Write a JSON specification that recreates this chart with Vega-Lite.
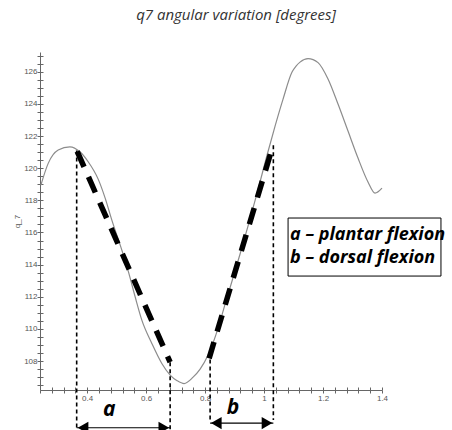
{
  "$schema": "https://vega.github.io/schema/vega-lite/v6.json",
  "width": 342,
  "height": 338,
  "autosize": {"type": "none"},
  "padding": {"left": 40, "top": 52, "right": 70, "bottom": 40},
  "background": "white",
  "config": {"view": {"stroke": null}},
  "title": {"text": "q7 angular variation [degrees]", "font": "Open Sans", "fontStyle": "italic", "fontWeight": "normal", "fontSize": 15, "color": "#333", "anchor": "middle", "frame": "group", "dx": 25, "offset": 17, "baseline": "alphabetic"},
  "datasets": {
    "curve": [
      {"t": 0.2431, "v": 118.95}, {"t": 0.2678, "v": 120.30}, {"t": 0.3017, "v": 121.13}, {"t": 0.3414, "v": 121.33},
      {"t": 0.3753, "v": 121.02}, {"t": 0.4034, "v": 120.40}, {"t": 0.4373, "v": 119.32}, {"t": 0.4610, "v": 118.14},
      {"t": 0.4837, "v": 116.77}, {"t": 0.5176, "v": 114.90}, {"t": 0.5400, "v": 113.55}, {"t": 0.5627, "v": 112.00},
      {"t": 0.5854, "v": 110.55}, {"t": 0.6193, "v": 109.10}, {"t": 0.6532, "v": 107.85}, {"t": 0.6814, "v": 107.13},
      {"t": 0.7051, "v": 106.78}, {"t": 0.7288, "v": 106.60}, {"t": 0.7593, "v": 107.00}, {"t": 0.7831, "v": 107.50},
      {"t": 0.8102, "v": 108.37}, {"t": 0.8441, "v": 110.05}, {"t": 0.8678, "v": 111.54}, {"t": 0.9186, "v": 114.66},
      {"t": 0.9763, "v": 118.45}, {"t": 1.0102, "v": 120.82}, {"t": 1.0373, "v": 122.62}, {"t": 1.0644, "v": 124.30},
      {"t": 1.0949, "v": 125.98}, {"t": 1.1085, "v": 126.35}, {"t": 1.1220, "v": 126.60}, {"t": 1.1492, "v": 126.82},
      {"t": 1.1831, "v": 126.57}, {"t": 1.2169, "v": 125.55}, {"t": 1.2508, "v": 123.99}, {"t": 1.2847, "v": 122.31},
      {"t": 1.3186, "v": 120.63}, {"t": 1.3525, "v": 119.14}, {"t": 1.3763, "v": 118.45}, {"t": 1.4, "v": 118.76}
    ],
    "chords": [
      {"t1": 0.3661, "v1": 121.05, "t2": 0.6814, "v2": 107.93},
      {"t1": 0.8136, "v1": 108.17, "t2": 1.0305, "v2": 121.43}
    ],
    "guides": [
      {"t": 0.3644, "v1": 121.1, "v2": 103.5},
      {"t": 0.6814, "v1": 107.93, "v2": 103.5},
      {"t": 0.817, "v1": 108.1, "v2": 104.33},
      {"t": 1.0315, "v1": 121.43, "v2": 104.33}
    ],
    "arrows": [
      {"t1": 0.3644, "t2": 0.6814, "v": 103.85},
      {"t1": 0.817, "t2": 1.0315, "v": 104.14}
    ],
    "heads": [
      {"t": 0.386, "v": 103.85, "dir": "left"},
      {"t": 0.660, "v": 103.85, "dir": "right"},
      {"t": 0.838, "v": 104.14, "dir": "left"},
      {"t": 1.010, "v": 104.14, "dir": "right"}
    ],
    "letters": [
      {"t": 0.4746, "v": 104.95, "label": "a"},
      {"t": 0.8949, "v": 105.07, "label": "b"}
    ],
    "box": [{"t1": 1.0814, "t2": 1.6, "v1": 116.9, "v2": 113.29}],
    "legendText": [
      {"t": 1.088, "v": 115.53, "text": "a – plantar flexion"},
      {"t": 1.088, "v": 114.10, "text": "b – dorsal flexion"}
    ]
  },
  "resolve": {"axis": {"x": "independent", "y": "independent"}},
  "layer": [
    {
      "data": {"name": "curve"},
      "mark": {"type": "line", "color": "#8c8c8c", "strokeWidth": 1.2, "interpolate": "monotone"},
      "encoding": {
        "x": {"field": "t", "type": "quantitative", "scale": {"domain": [0.24, 1.4], "nice": false, "zero": false},
          "axis": {"orient": "bottom", "title": null, "grid": false,
            "values": [0.24,0.28,0.32,0.36,0.4,0.44,0.48,0.52,0.56,0.6,0.64,0.68,0.72,0.76,0.8,0.84,0.88,0.92,0.96,1,1.04,1.08,1.12,1.16,1.2,1.24,1.28,1.32,1.36,1.4],
            "labelExpr": "abs(datum.value*5 - round(datum.value*5)) < 0.001 ? format(datum.value, '~g') : ''",
            "tickSize": 3, "tickColor": "#666", "domainColor": "#666", "labelColor": "#555", "labelFont": "Liberation Sans", "labelFontSize": 8, "labelPadding": 1, "labelFlush": false, "labelOverlap": false}},
        "y": {"field": "v", "type": "quantitative", "scale": {"domain": [106.2, 127.23], "nice": false, "zero": false},
          "axis": {"orient": "left", "grid": false, "title": "q_7", "titleFont": "Liberation Sans", "titleFontSize": 8, "titleFontWeight": "normal", "titleColor": "#555", "titlePadding": 2,
            "values": [106.5,107,107.5,108,108.5,109,109.5,110,110.5,111,111.5,112,112.5,113,113.5,114,114.5,115,115.5,116,116.5,117,117.5,118,118.5,119,119.5,120,120.5,121,121.5,122,122.5,123,123.5,124,124.5,125,125.5,126,126.5,127],
            "labelExpr": "datum.value % 2 == 0 ? format(datum.value, 'd') : ''",
            "tickSize": 3, "tickColor": "#666", "domainColor": "#666", "labelColor": "#555", "labelFont": "Liberation Sans", "labelFontSize": 8, "labelPadding": 0, "labelOverlap": false}}
      }
    },
    {
      "data": {"name": "guides"},
      "mark": {"type": "rule", "color": "black", "strokeWidth": 1.6, "strokeDash": [4, 3]},
      "encoding": {
        "x": {"field": "t", "type": "quantitative", "scale": {"domain": [0.24, 1.4], "nice": false, "zero": false},
          "axis": {"orient": "top", "offset": -338, "title": null, "grid": false, "labels": false, "domain": false,
            "values": [0.24,0.28,0.32,0.36,0.4,0.44,0.48,0.52,0.56,0.6,0.64,0.68,0.72,0.76,0.8,0.84,0.88,0.92,0.96,1,1.04,1.08,1.12,1.16,1.2,1.24,1.28,1.32,1.36,1.4],
            "tickSize": 3, "tickColor": "#666"}},
        "y": {"field": "v1", "type": "quantitative", "scale": {"domain": [106.2, 127.23], "nice": false, "zero": false},
          "axis": {"orient": "right", "offset": -342, "title": null, "grid": false, "labels": false, "domain": false,
            "values": [106.5,107,107.5,108,108.5,109,109.5,110,110.5,111,111.5,112,112.5,113,113.5,114,114.5,115,115.5,116,116.5,117,117.5,118,118.5,119,119.5,120,120.5,121,121.5,122,122.5,123,123.5,124,124.5,125,125.5,126,126.5,127],
            "tickSize": 3, "tickColor": "#666"}},
        "y2": {"field": "v2"}
      }
    },
    {
      "data": {"name": "chords"},
      "mark": {"type": "rule", "color": "black", "strokeWidth": 5.5, "strokeDash": [17, 11], "strokeCap": "butt"},
      "encoding": {
        "x": {"field": "t1", "type": "quantitative", "axis": null},
        "y": {"field": "v1", "type": "quantitative", "axis": null},
        "x2": {"field": "t2"},
        "y2": {"field": "v2"}
      }
    },
    {
      "data": {"name": "arrows"},
      "mark": {"type": "rule", "color": "black", "strokeWidth": 1.2},
      "encoding": {
        "x": {"field": "t1", "type": "quantitative", "axis": null},
        "x2": {"field": "t2"},
        "y": {"field": "v", "type": "quantitative", "axis": null}
      }
    },
    {
      "data": {"name": "heads"},
      "mark": {"type": "point", "filled": true, "color": "black", "size": 150, "opacity": 1},
      "encoding": {
        "x": {"field": "t", "type": "quantitative", "axis": null},
        "y": {"field": "v", "type": "quantitative", "axis": null},
        "shape": {"field": "dir", "type": "nominal", "scale": {"domain": ["left", "right"], "range": ["triangle-left", "triangle-right"]}, "legend": null}
      }
    },
    {
      "data": {"name": "letters"},
      "mark": {"type": "text", "font": "Open Sans", "fontStyle": "italic", "fontWeight": "bold", "fontSize": 21, "color": "black", "align": "center", "baseline": "middle"},
      "encoding": {
        "x": {"field": "t", "type": "quantitative", "axis": null},
        "y": {"field": "v", "type": "quantitative", "axis": null},
        "text": {"field": "label"}
      }
    },
    {
      "data": {"name": "box"},
      "mark": {"type": "rect", "fill": "white", "stroke": "black", "strokeWidth": 1},
      "encoding": {
        "x": {"field": "t1", "type": "quantitative", "axis": null},
        "x2": {"field": "t2"},
        "y": {"field": "v1", "type": "quantitative", "axis": null},
        "y2": {"field": "v2"}
      }
    },
    {
      "data": {"name": "legendText"},
      "mark": {"type": "text", "font": "Open Sans", "fontStyle": "italic", "fontWeight": "bold", "fontSize": 18, "color": "black", "align": "left", "baseline": "alphabetic"},
      "encoding": {
        "x": {"field": "t", "type": "quantitative", "axis": null},
        "y": {"field": "v", "type": "quantitative", "axis": null},
        "text": {"field": "text"}
      }
    }
  ]
}
